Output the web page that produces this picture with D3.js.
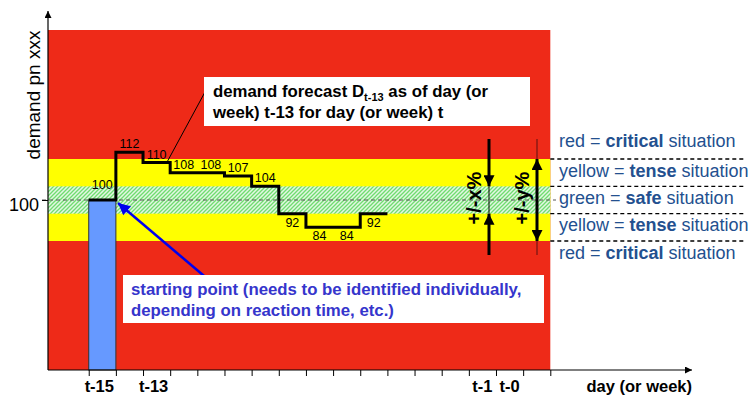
<!DOCTYPE html>
<html>
<head>
<meta charset="utf-8">
<script src="https://cdn.jsdelivr.net/npm/d3@7"></script>
<style>
  body { margin: 0; background: #fff; }
  svg { display: block; font-family: "Liberation Sans", Arial, sans-serif; }
</style>
</head>
<body>
<div id="chart"></div>
<script>
// forecast per period (period index i means day t+i, so -15 = t-15)
const periods = [-15, -14, -13, -12, -11, -10, -9, -8, -7, -6, -5];
const forecast = [100, 112, 110, 108, 108, 107, 104, 92, 84, 84, 92];

// x-axis labels
const labeledPeriods = [-15, -13, -1, 0];
const tickLabels = ["t-15", "t-13", "t-1", "t-0"];

// bands: +/- x% (safe) and +/- y% (tense)
const bandLimits = [5, 15];

// legend rows, top to bottom
const legendColours = ["red", "yellow", "green", "yellow", "red"];
const legendStates = ["critical", "tense", "safe", "tense", "critical"];
const legendLevels = [20, 10, 0, -10, -20];

const width = 749, height = 395;
const plotLeft = 48, plotTop = 30, plotBottom = 370;

const svg = d3.select("#chart").append("svg")
  .attr("width", width)
  .attr("height", height);

const defs = svg.append("defs");
const hatch = defs.append("pattern")
  .attr("id", "hatch")
  .attr("width", 4).attr("height", 4)
  .attr("patternUnits", "userSpaceOnUse");
hatch.append("rect").attr("width", 4).attr("height", 4).attr("fill", "#e2f8e2");
hatch.append("path")
  .attr("d", "M0,4 L4,0 M-1,1 L1,-1 M3,5 L5,3")
  .attr("stroke", "#70dc70").attr("stroke-width", 1.3);

function arrowMarker(id, colour, w, h) {
  defs.append("marker")
    .attr("id", id)
    .attr("viewBox", "0 0 10 10")
    .attr("refX", 10).attr("refY", 5)
    .attr("markerUnits", "userSpaceOnUse")
    .attr("markerWidth", w).attr("markerHeight", h)
    .attr("orient", "auto")
    .append("path").attr("d", "M0,0 L10,5 L0,10 Z").attr("fill", colour);
}
arrowMarker("axisHead", "#000", 8, 7);
arrowMarker("bigHead", "#000", 14, 11);
arrowMarker("blueHead", "#0000ee", 14, 12);

// scales
const x = d3.scaleLinear().domain([-16.5, 2]).range([plotLeft, 550.3]);
const pw = x(1) - x(0);
// schematic demand scale (not linear in the drawing)
const y = d3.scaleLinear().domain([84, 100, 108, 112]).range([227.3, 200, 172.7, 152.3]);
const band = d3.scaleLinear().domain([-15, 15]).range([241, 159]);

// background zones
const plotRight = x(2);
svg.append("rect")
  .attr("x", plotLeft).attr("y", plotTop)
  .attr("width", plotRight - plotLeft).attr("height", plotBottom - plotTop)
  .attr("fill", "#ee2a18");
svg.append("rect")
  .attr("x", plotLeft).attr("y", band(bandLimits[1]))
  .attr("width", plotRight - plotLeft).attr("height", band(-bandLimits[1]) - band(bandLimits[1]))
  .attr("fill", "#ffff00");
svg.append("rect")
  .attr("x", plotLeft).attr("y", band(bandLimits[0]))
  .attr("width", plotRight - plotLeft).attr("height", band(-bandLimits[0]) - band(bandLimits[0]))
  .attr("fill", "url(#hatch)");

// dashed 100 line
svg.append("line")
  .attr("x1", 42).attr("x2", 556)
  .attr("y1", y(100)).attr("y2", y(100))
  .attr("stroke", "#555").attr("stroke-width", 1)
  .attr("stroke-dasharray", "4,3");

// starting point bar
svg.append("rect")
  .attr("x", x(periods[0])).attr("y", y(forecast[0]))
  .attr("width", pw).attr("height", plotBottom - y(forecast[0]))
  .attr("fill", "#6699ff").attr("stroke", "#333").attr("stroke-width", 1);

// step line
const stepPts = periods.map((p, i) => [x(p), y(forecast[i])]);
stepPts.push([x(periods[periods.length - 1] + 1), y(forecast[forecast.length - 1])]);
svg.append("path")
  .attr("d", d3.line().curve(d3.curveStepAfter)(stepPts))
  .attr("fill", "none").attr("stroke", "#000").attr("stroke-width", 3);

// value labels
svg.selectAll("text.val")
  .data(forecast)
  .join("text")
  .attr("class", "val")
  .attr("x", (d, i) => x(periods[i]) + pw / 2)
  .attr("y", (d, i) => d >= 100 ? y(d) - (i === 0 ? 11 : 4) : y(d) + 13)
  .attr("text-anchor", "middle")
  .style("font-size", "12.5px")
  .attr("fill", "#000")
  .text(d => d);

// axes
const xAxis = svg.append("g")
  .attr("transform", `translate(0,${plotBottom})`)
  .call(d3.axisBottom(x).tickValues(d3.range(-15, 3)).tickSize(6).tickFormat(""));
xAxis.select(".domain").remove();
xAxis.selectAll("line").attr("stroke", "#000");

const yAxis = svg.append("g")
  .attr("transform", `translate(${plotLeft},0)`)
  .call(d3.axisLeft(y).tickValues([100]).tickSize(6).tickPadding(3));
yAxis.select(".domain").remove();
yAxis.selectAll("text")
  .attr("dy", "0.6em")
  .style("font-size", "18px")
  .style("font-family", "'Liberation Sans', Arial, sans-serif")
  .attr("fill", "#000");

svg.append("line")
  .attr("x1", plotLeft).attr("x2", 692)
  .attr("y1", plotBottom).attr("y2", plotBottom)
  .attr("stroke", "#000").attr("stroke-width", 1.2)
  .attr("marker-end", "url(#axisHead)");
svg.append("line")
  .attr("x1", plotLeft).attr("x2", plotLeft)
  .attr("y1", plotBottom).attr("y2", 11)
  .attr("stroke", "#000").attr("stroke-width", 1.2)
  .attr("marker-end", "url(#axisHead)");

svg.selectAll("text.tick-lab")
  .data(tickLabels)
  .join("text")
  .attr("class", "tick-lab")
  .attr("x", (d, i) => x(labeledPeriods[i]) + pw / 2 - (i < 2 ? 3 : 0))
  .attr("y", 392)
  .attr("text-anchor", "middle")
  .style("font-size", "16.5px").style("font-weight", "bold")
  .text(d => d);

svg.append("text")
  .attr("x", 692).attr("y", 392)
  .attr("text-anchor", "end")
  .style("font-size", "16.5px").style("font-weight", "bold")
  .text("day (or week)");

svg.append("text")
  .attr("transform", `translate(40,95) rotate(-90)`)
  .attr("text-anchor", "middle")
  .style("font-size", "19px")
  .text("demand pn xxx");

// right legend with dashed separators
[bandLimits[1], bandLimits[0], -bandLimits[0], -bandLimits[1]].forEach(b => {
  svg.append("line")
    .attr("x1", plotRight).attr("x2", 745)
    .attr("y1", band(b)).attr("y2", band(b))
    .attr("stroke", "#000").attr("stroke-width", 1.3)
    .attr("stroke-dasharray", "4,3");
});

const legend = svg.selectAll("text.legend")
  .data(legendStates)
  .join("text")
  .attr("class", "legend")
  .attr("x", 559)
  .attr("y", (d, i) => band(legendLevels[i]) + 4 + (i === 0 ? -2 : 0))
  .style("font-size", "18px")
  .attr("fill", "#23508f");
legend.append("tspan").text((d, i) => legendColours[i] + " = ");
legend.append("tspan").style("font-weight", "bold").text(d => d);
legend.append("tspan").text(" situation");

// +/- x% arrows
const ax = 489;
svg.append("line").attr("x1", ax).attr("x2", ax)
  .attr("y1", band(bandLimits[0])).attr("y2", band(-bandLimits[0]))
  .attr("stroke", "#000").attr("stroke-width", 1);
svg.append("line").attr("x1", ax).attr("x2", ax)
  .attr("y1", 139).attr("y2", band(bandLimits[0]))
  .attr("stroke", "#000").attr("stroke-width", 3)
  .attr("marker-end", "url(#bigHead)");
svg.append("line").attr("x1", ax).attr("x2", ax)
  .attr("y1", 255).attr("y2", band(-bandLimits[0]))
  .attr("stroke", "#000").attr("stroke-width", 3)
  .attr("marker-end", "url(#bigHead)");

// +/- y% arrows
const ay = 537;
svg.append("line").attr("x1", ay).attr("x2", ay)
  .attr("y1", 139).attr("y2", 255)
  .attr("stroke", "#5a1010").attr("stroke-width", 1);
svg.append("line").attr("x1", ay).attr("x2", ay)
  .attr("y1", 200).attr("y2", band(bandLimits[1]))
  .attr("stroke", "#000").attr("stroke-width", 3)
  .attr("marker-end", "url(#bigHead)");
svg.append("line").attr("x1", ay).attr("x2", ay)
  .attr("y1", 200).attr("y2", band(-bandLimits[1]))
  .attr("stroke", "#000").attr("stroke-width", 3)
  .attr("marker-end", "url(#bigHead)");

svg.append("text")
  .attr("transform", `translate(481,198) rotate(-90)`)
  .attr("text-anchor", "middle")
  .style("font-size", "20px").style("font-weight", "bold")
  .text("+/-x%");
svg.append("text")
  .attr("transform", `translate(529,198) rotate(-90)`)
  .attr("text-anchor", "middle")
  .style("font-size", "20px").style("font-weight", "bold")
  .text("+/-y%");

// forecast callout
svg.append("line")
  .attr("x1", 205).attr("y1", 92).attr("x2", 166).attr("y2", 164)
  .attr("stroke", "#000").attr("stroke-width", 1);
svg.append("rect")
  .attr("x", 204).attr("y", 77).attr("width", 326).attr("height", 49)
  .attr("fill", "#fff");
const c1 = svg.append("text")
  .attr("x", 213).attr("y", 96.5)
  .style("font-size", "16.8px").style("font-weight", "bold");
c1.append("tspan").text("demand forecast D");
c1.append("tspan").attr("dy", 4).style("font-size", "11px").text("t-13");
c1.append("tspan").attr("dy", -4).text(" as of day (or");
svg.append("text")
  .attr("x", 213).attr("y", 117.5)
  .style("font-size", "16.8px").style("font-weight", "bold")
  .text("week) t-13 for day (or week) t");

// starting point callout
svg.append("line")
  .attr("x1", 210).attr("y1", 281).attr("x2", 118).attr("y2", 203)
  .attr("stroke", "#0000ee").attr("stroke-width", 2.5)
  .attr("marker-end", "url(#blueHead)");
svg.append("rect")
  .attr("x", 123).attr("y", 275).attr("width", 421).attr("height", 48)
  .attr("fill", "#fff");
svg.append("text")
  .attr("x", 131).attr("y", 295)
  .style("font-size", "16.8px").style("font-weight", "bold")
  .attr("fill", "#3535cc")
  .text("starting point (needs to be identified individually,");
svg.append("text")
  .attr("x", 131).attr("y", 316)
  .style("font-size", "16.8px").style("font-weight", "bold")
  .attr("fill", "#3535cc")
  .text("depending on reaction time, etc.)");
</script>
</body>
</html>
